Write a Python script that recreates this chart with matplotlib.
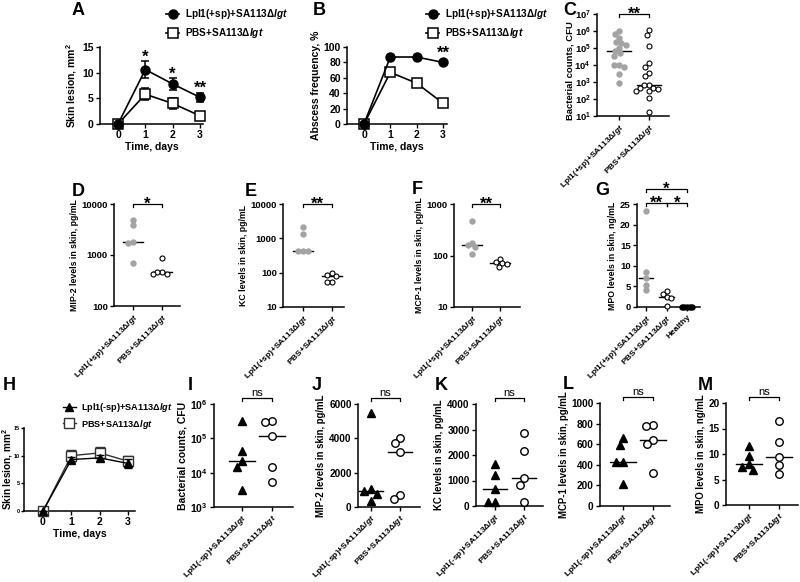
import numpy as np
import matplotlib
matplotlib.use('Agg')
import matplotlib.pyplot as plt
from matplotlib.transforms import blended_transform_factory

plt.rcParams['font.family'] = ['Liberation Sans', 'DejaVu Sans']
plt.rcParams['font.weight'] = 'bold'
plt.rcParams['axes.labelweight'] = 'bold'
plt.rcParams['mathtext.fontset'] = 'custom'
plt.rcParams['mathtext.rm'] = 'Liberation Sans:bold'
plt.rcParams['mathtext.it'] = 'Liberation Sans:italic:bold'
plt.rcParams['mathtext.bf'] = 'Liberation Sans:bold'
plt.rcParams['axes.linewidth'] = 1.1

# ---- data ----
days = [0, 1, 2, 3]
a_lpl = [0, 10.6, 7.8, 5.2]
a_lpl_err = [0, 1.6, 1.1, 0.9]
a_pbs = [0, 5.8, 4.0, 1.6]
a_pbs_err = [0, 1.2, 1.1, 0.5]
a_stars = ['', '*', '*', '**']

b_lpl = [0, 87, 87, 80]
b_pbs = [0, 67, 53, 27]

c_lpl = [1.05e6, 6.6e5, 4.0e5, 2.1e5, 2.2e5, 1.6e5, 1.05e5, 6.3e4, 5.2e4,
         3.2e4, 1.05e4, 9.5e3, 7.6e3, 3.0e3, 8.5e2]
c_pbs = [1.17e6, 6.0e5, 1.4e5, 1.3e4, 8.1e3, 3.6e3, 2.3e3, 7.1e2, 6.8e2,
         4.5e2, 4.2e2, 4.0e2, 3.0e2, 2.8e2, 1.2e2, 18]
d_lpl = [4900, 3900, 1780, 1700, 700]
d_pbs = [870, 460, 455, 430, 420]
e_lpl = [2200, 1350, 440, 430, 420]
e_pbs = [95, 88, 82, 55, 55]
f_lpl = [470, 173, 158, 148, 105]
f_pbs = [85, 74, 70, 69, 60]
g_lpl = [23.4, 8.5, 7.0, 5.4, 4.1]
g_pbs = [4.0, 3.2, 2.4, 2.3, 0.2]
g_healthy = [0, 0, 0, 0, 0]

h_lpl = [0, 9.3, 9.6, 8.6]
h_lpl_err = [0, 0.5, 0.5, 0.8]
h_pbs = [0, 10.0, 10.5, 9.0]
h_pbs_err = [0, 1.0, 1.0, 0.9]

i_lpl = [3.2e5, 4.3e4, 2.2e4, 1.5e4, 3.2e3]
i_pbs = [3.2e5, 3.0e5, 1.2e5, 1.5e4, 5.4e3]
j_lpl = [5450, 1020, 935, 740, 330]
j_pbs = [4030, 3700, 3180, 725, 450]
k_lpl = [1650, 1220, 655, 170, 160]
k_pbs = [2880, 2150, 1080, 820, 170]
l_lpl = [660, 595, 430, 425, 215]
l_pbs = [790, 780, 640, 600, 320]
m_lpl = [11.6, 9.7, 8.0, 7.4, 6.8]
m_pbs = [16.5, 12.3, 9.5, 7.8, 6.1]

lab_plus = r'Lpl1(+sp)+SA113$\Delta\mathit{lgt}$'
lab_minus = r'Lpl1(-sp)+SA113$\Delta\mathit{lgt}$'
lab_pbs = r'PBS+SA113$\Delta\mathit{lgt}$'

W, H = 800, 582
fig = plt.figure(figsize=(W / 100, H / 100), dpi=100)
over = fig.add_axes([0, 0, 1, 1])
over.set_xlim(0, W)
over.set_ylim(H, 0)
over.axis('off')


def make_ax(l, t, r, b, p_first, p_last, n_last):
    ax = fig.add_axes([l / W, 1 - b / H, (r - l) / W, (b - t) / H])
    unit = (p_last - p_first) / n_last
    ax.set_xlim((l - p_first) / unit, (r - p_first) / unit)
    for s in ['top', 'right']:
        ax.spines[s].set_visible(False)
    ax.tick_params(length=3, width=1, labelsize=6.8, pad=1.5)
    return ax


def swarm(ax, values, center, diam):
    vals = np.asarray(values, dtype=float)
    ys = ax.transData.transform(np.column_stack([np.zeros(len(vals)), vals]))[:, 1]
    unit = ax.transData.transform((1, 0))[0] - ax.transData.transform((0, 0))[0]
    offs = np.zeros(len(vals))
    placed = []
    for i in np.argsort(-vals, kind='stable'):
        blocked = []
        for px, py in placed:
            dy = abs(py - ys[i])
            if dy < diam:
                dx = np.sqrt(diam ** 2 - dy ** 2)
                blocked.append((px - dx, px + dx))
        cands = sorted([0.0] + [v for iv in blocked for v in iv], key=abs)
        x = 0.0
        for c in cands:
            if all(not (lo + 1e-6 < c < hi - 1e-6) for lo, hi in blocked):
                x = c
                break
        placed.append((x, ys[i]))
        offs[i] = x
    return center + offs / unit


def dots(ax, groups, styles, diams, half):
    for k, (vals, st, dm) in enumerate(zip(groups, styles, diams)):
        xs = swarm(ax, vals, k, dm)
        ax.plot(xs, vals, ls='none', clip_on=False, zorder=3, **st)
        med = np.median(vals)
        ax.plot([k - half, k + half], [med, med], color='k', lw=1, zorder=2,
                clip_on=False)


def bracket(ax, x0, x1, yf, text, fs=12, ns=False):
    tr = blended_transform_factory(ax.transData, ax.transAxes)
    hh = 3 / ax.bbox.height
    ax.plot([x0, x0, x1, x1], [yf - hh, yf, yf, yf - hh], color='k', lw=0.9,
            transform=tr, clip_on=False)
    if ns:
        ax.annotate(text, ((x0 + x1) / 2, yf), xycoords=tr, xytext=(0, 1.5),
                    textcoords='offset points', ha='center', va='baseline',
                    fontsize=8, fontweight='normal')
    else:
        ax.annotate(text, ((x0 + x1) / 2, yf), xycoords=tr, xytext=(0, -3.5),
                    textcoords='offset points', ha='center', va='baseline',
                    fontsize=fs)


def cat_labels(ax, labels, fs, pad=1.5):
    ax.set_xticks(range(len(labels)))
    ax.set_xticklabels(labels, rotation=45, ha='right', rotation_mode='anchor',
                       fontsize=fs)
    ax.tick_params(axis='x', pad=pad)


gray = dict(marker='o', ms=3.6, mfc='#a3a3a3', mec='#a3a3a3')
opn = dict(marker='o', ms=3.6, mfc='white', mec='k', mew=0.8)
blk = dict(marker='o', ms=3.6, mfc='k', mec='k')
tri = dict(marker='^', ms=5.2, mfc='k', mec='k')
opn2 = dict(marker='o', ms=5.4, mfc='white', mec='k', mew=1)

# ---- A ----
ax = make_ax(100, 47, 203, 124, 118, 200, 3)
ax.set_ylim(0, 15)
ax.set_yticks([0, 5, 10, 15])
ax.set_xticks(days)
ax.tick_params(labelsize=7.5)
ep = ax.errorbar(days, a_pbs, yerr=a_pbs_err, fmt='-s', color='k', mfc='white',
                 ms=6.5, mew=1.1, lw=1.2, capsize=3, elinewidth=1.1, capthick=1.1,
                 zorder=3)
el = ax.errorbar(days, a_lpl, yerr=a_lpl_err, fmt='-o', color='k', ms=6.5,
                 lw=1.2, capsize=3, elinewidth=1.1, capthick=1.1, zorder=4)
for c in (ep, el):
    for a in c.get_children():
        a.set_clip_on(False)
for x, m, e, s in zip(days, a_lpl, a_lpl_err, a_stars):
    if s:
        ax.annotate(s, (x, m + e), xytext=(0, 0), textcoords='offset points',
                    ha='center', va='baseline', fontsize=12)
ax.set_ylabel('Skin lesion, mm$^2$', fontsize=7.5, labelpad=2)
ax.set_xlabel('Time, days', fontsize=7.5, labelpad=1)
fig.legend([el.lines[0], ep.lines[0]], [lab_plus, lab_pbs], loc='upper left',
           bbox_to_anchor=(166 / W, 1 - 7 / H), frameon=False, fontsize=7.2,
           handlelength=1.3, handletextpad=0.6, labelspacing=0.55,
           borderaxespad=0, borderpad=0)

# ---- B ----
ax = make_ax(347, 47, 447, 124, 364, 443, 3)
ax.set_ylim(0, 100)
ax.set_yticks([0, 20, 40, 60, 80, 100])
ax.set_xticks(days)
ax.tick_params(labelsize=7.5)
lp = ax.plot(days, b_pbs, '-s', color='k', mfc='white', ms=6.5, mew=1.1, lw=1.2,
             clip_on=False, zorder=3)[0]
ll = ax.plot(days, b_lpl, '-o', color='k', ms=6.5, lw=1.2, clip_on=False,
             zorder=4)[0]
ax.annotate('**', (3, b_lpl[3]), xytext=(0, 3), textcoords='offset points',
            ha='center', va='baseline', fontsize=12)
ax.set_ylabel('Abscess frequency, %', fontsize=7.5, labelpad=2)
ax.set_xlabel('Time, days', fontsize=7.5, labelpad=1)
fig.legend([ll, lp], [lab_plus, lab_pbs], loc='upper left',
           bbox_to_anchor=(426 / W, 1 - 7 / H), frameon=False, fontsize=7.2,
           handlelength=1.3, handletextpad=0.6, labelspacing=0.55,
           borderaxespad=0, borderpad=0)

# ---- C ----
ax = make_ax(597, 14, 669, 116, 619, 649, 1)
ax.set_yscale('log')
ax.set_ylim(10, 1e7)
ax.set_yticks([10 ** p for p in range(1, 8)],
              [r'$10^{%d}$' % p for p in range(1, 8)])
ax.minorticks_off()
dots(ax, [c_lpl, c_pbs], [gray, opn], [5.2, 5.2], 0.4)
cat_labels(ax, [lab_plus, lab_pbs], 6.0)
ax.set_ylabel('Bacterial counts, CFU', fontsize=6.8, labelpad=2)
ax.yaxis.set_label_coords(-0.31, 0.45)
bracket(ax, 0, 1, 1.0, '**')

# ---- D, E, F ----
for box, cats, ylim, ticks, data, ylab in [
        ((114, 204, 180, 306), (133, 162), (100, 10000), [100, 1000, 10000],
         (d_lpl, d_pbs, '*'), 'MIP-2 levels in skin, pg/mL'),
        ((283, 204, 344, 307), (303, 332), (10, 10000), [10, 100, 1000, 10000],
         (e_lpl, e_pbs, '**'), 'KC levels in skin, pg/mL'),
        ((454, 204, 520, 307), (472, 500), (10, 1000), [10, 100, 1000],
         (f_lpl, f_pbs, '**'), 'MCP-1 levels in skin, pg/mL')]:
    ax = make_ax(*box, cats[0], cats[1], 1)
    ax.set_yscale('log')
    ax.set_ylim(*ylim)
    ax.set_yticks(ticks, [str(t) for t in ticks])
    ax.minorticks_off()
    dots(ax, [data[0], data[1]], [gray, opn], [4.8, 4.8], 0.36)
    cat_labels(ax, [lab_plus, lab_pbs], 6.0)
    ax.set_ylabel(ylab, fontsize=6.3, labelpad=2)
    bracket(ax, 0, 1, 1.0, data[2])

# ---- G ----
ax = make_ax(637, 204, 700, 307, 646, 687, 2)
ax.set_ylim(0, 25)
ax.set_yticks([0, 5, 10, 15, 20, 25])
dots(ax, [g_lpl, g_pbs, g_healthy], [gray, opn, blk], [4.8, 4.8, 2.6], 0.36)
cat_labels(ax, [lab_plus, lab_pbs, 'Healthy'], 6.0)
ax.set_ylabel('MPO levels in skin, ng/mL', fontsize=6.3, labelpad=2)
bracket(ax, 0, 1, 1.01, '**')
bracket(ax, 1, 2, 1.01, '*')
bracket(ax, 0, 2, 1.145, '*')

# ---- H ----
ax = make_ax(24, 428, 135, 511, 43, 128, 3)
ax.set_ylim(0, 15)
ax.set_yticks([0, 5, 10, 15])
ax.set_xticks(days)
ax.tick_params(axis='y', labelsize=4, length=2, pad=1)
ax.tick_params(axis='x', labelsize=7.5)
hp = ax.errorbar(days, h_pbs, yerr=h_pbs_err, fmt='-s', color='#333333',
                 mfc='white', ms=7, mew=1, lw=1, capsize=3.5, elinewidth=1,
                 capthick=1, zorder=3)
hl = ax.errorbar(days, h_lpl, yerr=h_lpl_err, fmt='-^', color='k', ms=6,
                 lw=1, capsize=3, elinewidth=1, capthick=1, zorder=4)
for c in (hp, hl):
    for a in c.get_children():
        a.set_clip_on(False)
ax.set_ylabel('Skin lesion, mm$^2$', fontsize=7.2)
ax.yaxis.set_label_coords(-0.085, 0.5)
ax.set_xlabel('Time, days', fontsize=7.5, labelpad=1)
fig.legend([hl.lines[0], hp.lines[0]], [lab_minus, lab_pbs], loc='upper left',
           bbox_to_anchor=(63 / W, 1 - 401 / H), frameon=False, fontsize=6.6,
           handlelength=1.4, handletextpad=0.6, labelspacing=0.4,
           borderaxespad=0, borderpad=0)

# ---- I ----
ax = make_ax(214, 404, 293, 507, 242, 272, 1)
ax.set_yscale('log')
ax.set_ylim(1e3, 1e6)
ax.set_yticks([10 ** p for p in range(3, 7)],
              [r'$10^{%d}$' % p for p in range(3, 7)])
ax.minorticks_off()
ax.tick_params(labelsize=7.5)
dots(ax, [i_lpl, i_pbs], [tri, opn2], [7.5, 7.5], 0.42)
cat_labels(ax, [lab_minus, lab_pbs], 6.1, pad=1)
ax.set_ylabel('Bacterial counts, CFU', fontsize=7.5, labelpad=2)
bracket(ax, 0, 1, 1.06, 'ns', ns=True)

# ---- J, K, L, M ----
for box, cats, ylim, ticks, data, ylab in [
        ((358, 404, 420, 507), (371, 400), (0, 6000), [0, 2000, 4000, 6000],
         (j_lpl, j_pbs), 'MIP-2 levels in skin, pg/mL'),
        ((476, 404, 543, 506), (495, 524), (0, 4000), [0, 1000, 2000, 3000, 4000],
         (k_lpl, k_pbs), 'KC levels in skin, pg/mL'),
        ((600, 403, 670, 506), (623, 653), (0, 1000), [0, 200, 400, 600, 800, 1000],
         (l_lpl, l_pbs), 'MCP-1 levels in skin, pg/mL'),
        ((726, 403, 798, 505), (749, 779), (0, 20), [0, 5, 10, 15, 20],
         (m_lpl, m_pbs), 'MPO levels in skin, ng/mL')]:
    ax = make_ax(*box, cats[0], cats[1], 1)
    ax.set_ylim(*ylim)
    ax.set_yticks(ticks)
    ax.tick_params(labelsize=7.2)
    dots(ax, [data[0], data[1]], [tri, opn2], [7.5, 7.5], 0.42)
    cat_labels(ax, [lab_minus, lab_pbs], 6.1, pad=1)
    ax.set_ylabel(ylab, fontsize=6.9, labelpad=2)
    bracket(ax, 0, 1, 1.06, 'ns', ns=True)

# ---- panel letters ----
for letter, x, y in [('A', 72, 15), ('B', 313, 15), ('C', 563, 15),
                     ('D', 72, 196), ('E', 245, 196), ('F', 412, 194),
                     ('G', 595, 195), ('H', 3, 390), ('I', 188, 390),
                     ('J', 312, 390), ('K', 435, 390), ('L', 563, 389),
                     ('M', 698, 390)]:
    over.text(x, y, letter, fontsize=13, fontweight='bold', va='baseline')

fig.savefig('out.png', dpi=100)
